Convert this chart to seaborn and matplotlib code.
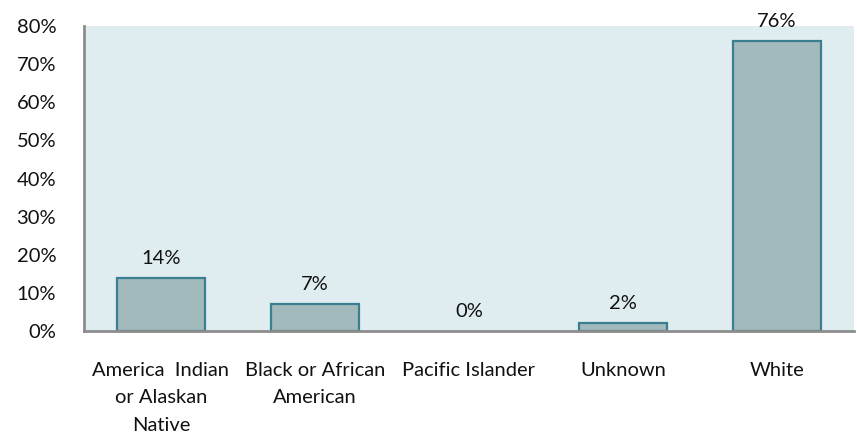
import matplotlib
matplotlib.use("Agg")
import matplotlib.pyplot as plt
import seaborn as sns
import pandas as pd

categories = ["America  Indian\nor Alaskan\nNative", "Black or African\nAmerican",
              "Pacific Islander", "Unknown", "White"]
values = [14, 7, 0, 2, 76]
yticks = [0, 10, 20, 30, 40, 50, 60, 70, 80]

sns.set_theme(style="white")
plt.rcParams['font.family'] = ['Lato', 'DejaVu Sans']

df = pd.DataFrame({"cat": categories, "val": values})
FS = 14.5

fig = plt.figure(figsize=(8.57, 4.44), dpi=100)
ax = fig.add_axes([84/857, 1-331/444, 770/857, (331-26)/444])
ax.set_facecolor("#dfedf1")
sns.barplot(data=df, x="cat", y="val", ax=ax, color="#a3babd", width=0.57,
            edgecolor="#3a7f8f", linewidth=1.6, saturation=1)
for p, v in zip(ax.patches, values):
    if v == 0:
        p.set_edgecolor("none")
    ax.annotate(f"{v}%", (p.get_x() + p.get_width()/2, p.get_height()),
                xytext=(0, 8), textcoords="offset points", ha="center", va="bottom",
                fontsize=FS, color="#111111")
ax.set_ylim(0, 80)
ax.set_xlim(-0.5, 4.5)
ax.set_yticks(yticks)
ax.set_yticklabels([f"{t}%" for t in yticks], fontsize=FS, color="#111111")
ax.tick_params(axis="y", length=0, pad=20)
ax.set_xticks(range(len(categories)))
ax.set_xticklabels(categories, fontsize=FS, color="#111111", linespacing=1.75)
ax.tick_params(axis="x", length=0, pad=22)
ax.set_xlabel("")
ax.set_ylabel("")
for s in ["top", "right"]:
    ax.spines[s].set_visible(False)
for s in ["left", "bottom"]:
    ax.spines[s].set_color("#8c8c8c")
    ax.spines[s].set_linewidth(2)
fig.savefig("out.png", dpi=100)
